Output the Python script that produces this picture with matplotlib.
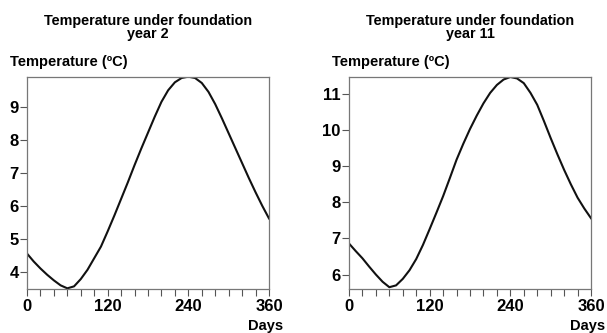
import numpy as np
import matplotlib.pyplot as plt

plt.rcParams['font.family'] = ['Liberation Sans', 'DejaVu Sans']

days = list(range(0, 361, 10))
temp_year2 = [4.57, 4.33, 4.12, 3.93, 3.76, 3.61, 3.52, 3.58, 3.80, 4.08,
              4.43, 4.78, 5.24, 5.72, 6.22, 6.72, 7.24, 7.74, 8.22, 8.70,
              9.15, 9.50, 9.74, 9.87, 9.91, 9.87, 9.72, 9.45, 9.08, 8.65,
              8.20, 7.75, 7.30, 6.85, 6.42, 6.01, 5.63]
temp_year11 = [6.86, 6.65, 6.45, 6.22, 6.00, 5.80, 5.65, 5.70, 5.88, 6.12,
               6.43, 6.82, 7.26, 7.71, 8.17, 8.67, 9.18, 9.62, 10.03, 10.40,
               10.74, 11.03, 11.25, 11.40, 11.47, 11.43, 11.30, 11.03, 10.70, 10.25,
               9.78, 9.33, 8.90, 8.50, 8.13, 7.83, 7.56]

titles = ["Temperature under foundation\nyear 2", "Temperature under foundation\nyear 11"]
ylims = [(3.5, 9.9), (5.6, 11.47)]
yticks = [[4, 5, 6, 7, 8, 9], [6, 7, 8, 9, 10, 11]]
xticks = [0, 120, 240, 360]

fig = plt.figure(figsize=(6.07, 3.33), dpi=100)
lefts = [27 / 607, 349 / 607]
series = [temp_year2, temp_year11]

for i in range(2):
    ax = fig.add_axes([lefts[i], 44 / 333, 242 / 607, 212 / 333])
    ax.plot(days, series[i], color='#111111', lw=1.5)
    ax.set_xlim(0, 360)
    ax.set_ylim(*ylims[i])
    ax.set_xticks(xticks)
    ax.set_xticks(np.arange(0, 361, 20), minor=True)
    ax.set_yticks(yticks[i])
    for s in ax.spines.values():
        s.set_color('#777777')
        s.set_linewidth(0.9)
    ax.tick_params(axis='both', which='both', direction='out', length=5, width=0.8,
                   color='#555555', labelsize=12)
    ax.tick_params(axis='x', pad=2)
    ax.tick_params(axis='y', pad=1)
    for lab in ax.get_xticklabels() + ax.get_yticklabels():
        lab.set_fontweight('bold')
    ax.set_title(titles[i], fontsize=10.4, fontweight='bold', pad=28, linespacing=0.95)
    ax.text(-0.07, 1.04, "Temperature (ºC)", transform=ax.transAxes, fontsize=10.5,
            fontweight='bold', ha='left', va='bottom')
    ax.text(1.06, -0.14, "Days", transform=ax.transAxes, fontsize=10.5,
            fontweight='bold', ha='right', va='top')

fig.savefig("out.png", dpi=100)
